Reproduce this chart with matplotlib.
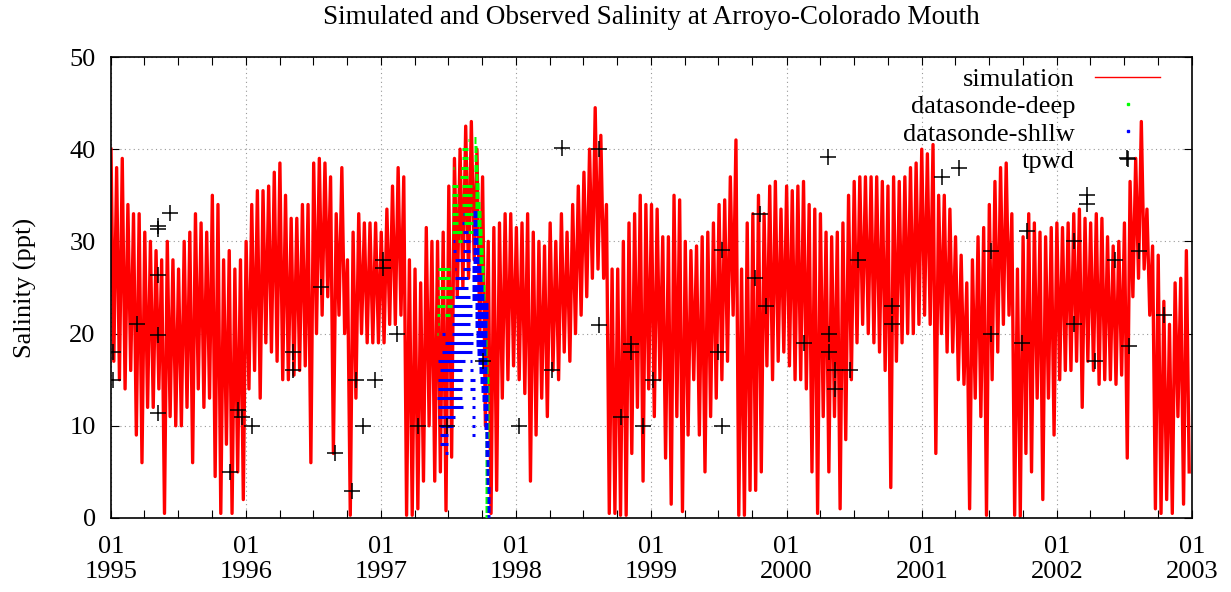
import numpy as np
import pandas as pd
import matplotlib
matplotlib.use("Agg")
import matplotlib.pyplot as plt
import matplotlib.dates as mdates
from matplotlib.lines import Line2D

plt.rcParams['font.family'] = ['Liberation Serif', 'DejaVu Serif']

# simulated salinity (ppt): upper / lower envelope per half month, 1995-2002
sim_hi = [
    40, 38, 39, 34, 33, 33, 31, 30, 29, 28, 30, 28, 27, 30, 31, 33, 32, 31, 35, 34, 28, 29, 27, 28,              # 1995
    30, 34, 35.5, 35.5, 36, 37.5, 38.5, 35, 32.5, 32.5, 34, 34, 38.5, 39, 38.5, 37, 33, 38, 28, 31, 33, 32, 32, 32,  # 1996
    31, 33.5, 36, 38, 37, 28, 27, 25.5, 31.5, 30, 30, 31, 36, 39, 40, 42.5, 43, 40, 37, 30, 31.5, 32, 33, 33,      # 1997
    31.5, 32, 33, 31, 30, 29.5, 32, 30, 33, 31, 34, 36, 37.5, 40, 44.5, 41.5, 34, 27, 27, 30, 32, 33, 35, 34,      # 1998
    34, 33.5, 30.5, 30.5, 35, 34.5, 30, 29, 29.5, 30.5, 31, 32, 34, 34.5, 37, 41, 27, 32, 33, 35, 33, 36, 36.5, 33.5,  # 1999
    36, 35.5, 36, 36.5, 34, 33.5, 33, 31, 30.5, 31, 32, 35, 36.5, 37, 37, 37, 37, 36.5, 36, 37, 36.5, 37, 38, 38.5,   # 2000
    40, 39.5, 40.5, 35, 35, 33.5, 30.5, 28.5, 25.5, 28, 30.5, 31.5, 34, 36.5, 38, 38.5, 33, 27, 30.5, 33, 32, 31, 30.5, 31.5,  # 2001
    32, 31.5, 32, 33, 33.5, 32.5, 32, 33, 32.5, 30.5, 29.5, 30, 32, 36.5, 39, 43, 33.5, 29.5, 28.5, 23.5, 21, 25.5, 26, 29,  # 2002
]
sim_lo = [
    17, 15, 14, 16, 9, 6, 12, 12, 14, 0.5, 11, 10, 10, 12, 6, 14, 12, 13, 4.5, 0.5, 8, 0.5, 5, 2,
    14, 16, 13, 19, 18, 17, 15, 15, 15.5, 16, 16.5, 6, 20, 22, 24, 7, 22, 20, 0.3, 13, 20, 19, 19, 19,
    19, 21, 21, 22, 0.3, 0.3, 1, 4, 10, 4, 5, 0.8, 6.6, 24, 25, 26, 28, 20, 10, 0.5, 3, 13, 15, 16.5,
    15, 13.5, 4, 9, 13, 11, 16, 15, 18, 17, 20, 22, 24, 26, 27, 26, 0.5, 0.5, 0.3, 0.3, 7, 12, 4, 14,
    11, 15, 6.5, 1.5, 11, 0.7, 9, 15, 9, 5, 11, 13, 15, 17, 22, 0.3, 0.3, 3, 3, 5, 16.5, 15, 17, 18,
    16.5, 15, 15, 14, 5, 0.5, 11, 5, 11, 1, 8.5, 15, 19, 21, 20, 19, 18, 16, 3.3, 17, 19, 20, 20, 21,
    22, 21, 7, 20, 18, 18, 15, 14.5, 1, 13, 11, 0.3, 15, 18, 21, 22, 0.3, 0.2, 7, 5, 13, 2, 13, 9,
    15, 16, 16, 17, 12, 17, 16, 14.5, 15, 15, 14.5, 15.5, 6.5, 24, 26, 27, 22, 1, 0.5, 2, 0.5, 11, 1.5, 5,
]

# datasonde readings in 1997 as runs at one level: level (ppt), first and last day of year
deep_lvl = [41, 40, 39, 38, 38, 37, 36, 36, 35, 35, 34, 34, 33, 33, 32, 32, 31, 31, 30, 27, 26, 25, 24, 23, 23, 22, 22, 21, 20]
deep_t0 = [236, 218, 218, 195, 216, 214, 191, 218, 191, 218, 191, 218, 191, 222, 191, 222, 191, 236, 209, 155, 155, 155, 155, 150, 177, 150, 173, 155, 152]
deep_t1 = [238, 236, 236, 197, 236, 236, 209, 245, 209, 245, 209, 245, 209, 249, 209, 249, 218, 249, 218, 186, 186, 191, 191, 173, 191, 159, 186, 157, 155]

deep_fall_lvl = [41, 40, 39, 38, 37, 36, 35, 34, 33, 32, 31, 30, 29, 28, 27, 26, 25, 24, 23, 22, 21,
                 20, 19, 18, 17, 16, 15, 14, 13, 12, 11, 10, 9, 8, 7, 6, 5, 4, 3, 2, 1, 0]
deep_fall_t0 = [251, 251, 251, 251, 254, 254, 254, 254, 257, 257, 259, 259, 262, 262, 265, 265, 267, 267, 270, 270, 273,
                273, 276, 276, 278, 278, 281, 281, 281, 281, 281, 281, 281, 281, 281, 281, 281, 281, 281, 281, 281, 281]
deep_fall_t1 = [257, 259, 259, 262, 262, 265, 265, 267, 270, 270, 273, 273, 276, 276, 278, 278, 281, 281, 284, 284, 286,
                286, 286, 286, 289, 289, 292, 292, 292, 292, 292, 292, 292, 292, 292, 292, 292, 292, 292, 292, 292, 292]

shllw_lvl = [33, 32, 31, 30, 30, 29, 29, 28, 27, 27, 26, 25, 24, 23, 22, 21, 20, 20, 19, 18,
             17, 17, 16, 16, 15, 15, 14, 14, 13, 13, 12, 12, 11, 11, 10, 10, 9, 9, 8, 7]
shllw_t0 = [222, 220, 222, 195, 222, 195, 222, 200, 200, 222, 200, 200, 200, 195, 195, 191, 164, 191, 173, 164,
            155, 240, 159, 240, 155, 240, 155, 240, 150, 245, 155, 245, 155, 245, 159, 245, 159, 245, 159, 173]
shllw_t1 = [224, 224, 236, 200, 240, 203, 240, 240, 203, 240, 236, 236, 240, 245, 245, 240, 173, 249, 249, 245,
            227, 245, 218, 249, 222, 254, 218, 254, 218, 254, 222, 254, 200, 254, 195, 254, 182, 254, 182, 182]

shllw_fall_lvl = [33, 32, 31, 30, 29, 28, 27, 26, 25, 24, 23, 22, 21, 20, 19, 18, 17,
                  16, 15, 14, 13, 12, 11, 10, 9, 8, 7, 6, 5, 4, 3, 2, 1, 0]
shllw_fall_t0 = [249, 249, 249, 249, 249, 249, 246, 246, 246, 246, 254, 254, 254, 257, 257, 259, 262,
                 265, 267, 270, 273, 276, 278, 278, 281, 281, 281, 284, 284, 284, 286, 286, 286, 286]
shllw_fall_t1 = [259, 259, 262, 262, 265, 265, 270, 273, 276, 278, 289, 289, 286, 286, 284, 284, 286,
                 286, 286, 289, 289, 289, 289, 289, 289, 292, 292, 292, 292, 292, 294, 294, 294, 294]

# TPWD grab samples
tpwd_date = ["1995-01-07", "1995-01-07", "1995-03-11", "1995-05-09", "1995-05-09", "1995-05-09", "1995-05-09",
             "1995-05-09", "1995-06-09", "1995-11-19", "1995-12-11", "1995-12-20",
             "1996-01-16", "1996-05-06", "1996-05-06", "1996-07-21", "1996-08-28", "1996-10-14", "1996-10-24",
             "1996-11-13", "1996-12-14",
             "1997-01-06", "1997-01-06", "1997-02-12", "1997-04-11", "1997-06-27", "1997-10-03",
             "1998-01-08", "1998-04-08", "1998-05-05", "1998-08-13", "1998-08-13", "1998-10-10", "1998-11-06",
             "1998-11-06", "1998-12-10",
             "1999-01-06", "1999-07-01", "1999-07-10", "1999-07-10", "1999-10-08", "1999-10-21", "1999-11-06",
             "2000-02-18", "2000-04-23", "2000-04-25", "2000-04-25", "2000-05-11", "2000-05-11", "2000-06-21",
             "2000-07-13", "2000-10-13", "2000-10-13",
             "2001-02-24", "2001-04-10", "2001-07-07", "2001-07-07", "2001-09-28", "2001-10-12",
             "2002-02-15", "2002-02-15", "2002-03-23", "2002-03-23", "2002-04-15", "2002-06-08", "2002-07-09",
             "2002-07-14", "2002-08-10", "2002-10-18"]
tpwd_sal = [18, 15, 21, 31.7, 31.3, 26.4, 19.9, 11.4, 33.1, 5.0, 11.7, 11.0,
            10, 18, 16, 25.1, 7, 2.9, 15, 10, 15,
            28, 27.1, 20, 10, 10, 17,
            10, 16, 40.1, 40, 20.9, 11, 18.9, 18, 10,
            15, 18, 29.1, 10, 26, 33, 23,
            19, 39.1, 20, 18, 16, 14, 16, 28, 23, 21,
            37, 38, 29, 20, 19, 31.1,
            30, 21, 35, 34.1, 17, 28, 39, 18.7, 29, 22]


def doy97(days):
    return mdates.date2num(np.datetime64("1996-12-31") + np.array(days).astype("timedelta64[D]"))


sim_val = np.column_stack([sim_hi, sim_lo]).ravel()
sim_time = pd.date_range("1995-01-01", "2003-01-01", periods=len(sim_val) + 1)[:-1]

fig = plt.figure(figsize=(12.31, 5.92), dpi=100)
ax = fig.add_axes([111 / 1231, 74 / 592, 1081 / 1231, 461 / 592])

ax.plot(sim_time, sim_val, color="#ff0000", lw=2.4, zorder=2)

green, blue = "#00ff00", "#0000ff"
ax.hlines(deep_lvl, doy97(deep_t0), doy97(deep_t1), color=green, lw=2.2, zorder=3)
ax.hlines(deep_fall_lvl, doy97(deep_fall_t0), doy97(deep_fall_t1), color=green, lw=5, zorder=3)
ax.hlines(shllw_lvl, doy97(shllw_t0), doy97(shllw_t1), color=blue, lw=2.2, zorder=4)
ax.hlines(shllw_fall_lvl, doy97(shllw_fall_t0), doy97(shllw_fall_t1), color=blue, lw=5, zorder=4)

ax.plot(pd.to_datetime(tpwd_date), tpwd_sal, ls="none", marker="+", ms=11, mew=1.1, color="black", zorder=5)

ax.set_xlim(pd.Timestamp("1995-01-01"), pd.Timestamp("2003-01-01"))
ax.set_ylim(0, 50)
ax.set_yticks([0, 10, 20, 30, 40, 50])
ax.xaxis.set_major_locator(mdates.YearLocator())
ax.xaxis.set_major_formatter(mdates.DateFormatter("%m\n%Y"))
ax.xaxis.set_minor_locator(mdates.MonthLocator(bymonth=[4, 7, 10]))
ax.tick_params(which="both", direction="in", top=True, right=True, length=6, width=0.8, labelsize=19)
ax.tick_params(axis="x", pad=13)
ax.tick_params(axis="y", pad=11)
for lab in ax.get_xticklabels():
    lab.set_linespacing(1.15)
for s in ax.spines.values():
    s.set_linewidth(1.2)
ax.grid(True, which="major", color="#999999", lw=0.8, ls=(0, (1, 3)))

ax.set_title("Simulated and Observed Salinity at Arroyo-Colorado Mouth", fontsize=19.5, pad=24)
ax.set_ylabel("Salinity (ppt)", fontsize=19)
ax.yaxis.set_label_coords(-0.068, 0.5)

handles = [Line2D([], [], color="#ff0000", lw=1),
           Line2D([], [], ls="none", marker="s", ms=1.5, color=green),
           Line2D([], [], ls="none", marker="s", ms=1.5, color=blue),
           Line2D([], [], ls="none", marker="+", ms=11, mew=1.1, color="black")]
ax.legend(handles, ["simulation", "datasonde-deep", "datasonde-shllw", "tpwd"],
          loc="upper right", bbox_to_anchor=(0.9704, 0.977), markerfirst=False, frameon=False,
          fontsize=19, handlelength=2.46, handletextpad=0.76, labelspacing=0.145,
          borderpad=0, borderaxespad=0)

fig.savefig("out.png", dpi=100)
